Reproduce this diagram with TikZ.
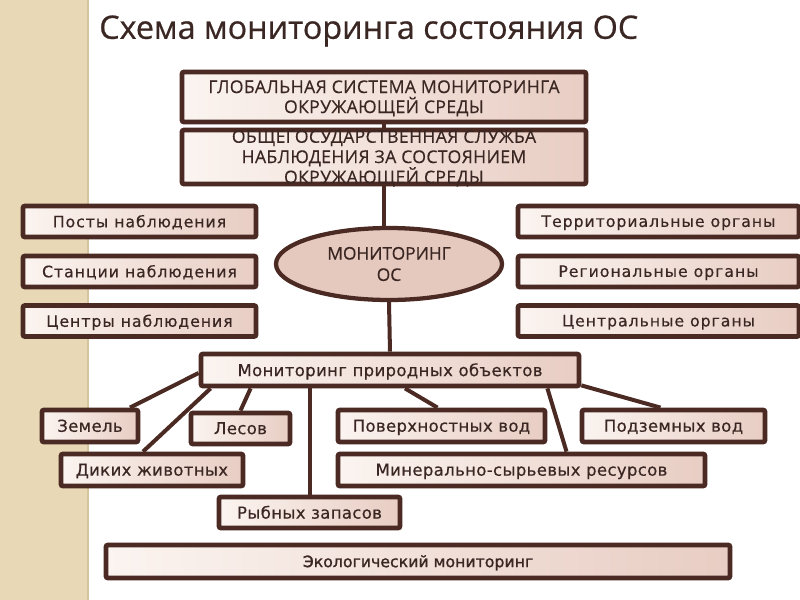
\documentclass[tikz,border=0pt]{standalone}
\usepackage{fontspec}
\setmainfont{DejaVu Sans}
\newfontfamily\hdrfont[FakeBold=0.6]{Open Sans}
\newfontfamily\capfont[LetterSpace=2,FakeBold=0.4]{Open Sans}
\newfontfamily\labfont[LetterSpace=6,FakeBold=0.4]{DejaVu Sans}
\newfontfamily\lowfont[LetterSpace=2,FakeBold=0.4]{DejaVu Sans}
\newfontfamily\ekofont[FakeBold=1.2]{DejaVu Sans}
\usetikzlibrary{shapes.geometric,calc}
\definecolor{brd}{HTML}{4A2A22}
\definecolor{txt}{HTML}{3A2622}
\definecolor{pinkr}{HTML}{E8CDC3}
\definecolor{pinkl}{HTML}{FBF4F0}
\definecolor{ellf}{HTML}{E6C9BE}
\definecolor{strip}{HTML}{E9D8B5}
\definecolor{stripline}{HTML}{D6C49E}
\tikzset{
  bx/.style={draw=brd, line width=3.6pt, rounded corners=1.5pt, left color=pinkl, right color=pinkr,
    inner sep=0pt, text=txt, align=center, text depth=0.5pt},
  lab/.style={font=\labfont\fontsize{11.8}{13}\selectfont},
  low/.style={font=\lowfont\fontsize{12.4}{14}\selectfont},
  conn/.style={draw=brd, line width=3pt},
}
\begin{document}
\begin{tikzpicture}[x=0.75pt,y=-0.75pt]
\useasboundingbox (0,0) rectangle (800,600);
\fill[white] (0,0) rectangle (800,600);
\fill[strip] (0,0) rectangle (87,600);
\draw[stripline, line width=1.5pt] (88,0) -- (88,600);
% title
\node[anchor=west, text=txt, font=\hdrfont\fontsize{24.2}{29}\selectfont, inner sep=0pt] (title) at (99,31) {Схема мониторинга состояния ОС};
% header boxes
\node[bx, minimum width=303pt, minimum height=37.5pt, font=\capfont\fontsize{13.2}{15}\selectfont] (glob) at (384,97)
  {ГЛОБАЛЬНАЯ СИСТЕМА МОНИТОРИНГА\\ОКРУЖАЮЩЕЙ СРЕДЫ};
\node[bx, minimum width=303pt, minimum height=39pt, font=\capfont\fontsize{13.2}{15.2}\selectfont] (obsh) at (384,157)
  {ОБЩЕГОСУДАРСТВЕННАЯ СЛУЖБА\\НАБЛЮДЕНИЯ ЗА СОСТОЯНИЕМ\\ОКРУЖАЮЩЕЙ СРЕДЫ};
\node[ellipse, draw=brd, line width=3.2pt, fill=ellf, minimum width=169.5pt, minimum height=54pt, inner sep=0pt,
  text=txt, align=center, font=\hdrfont\fontsize{13}{16}\selectfont] (ell) at (389,264) {МОНИТОРИНГ\\ОС};
% left column
\node[bx, lab, minimum width=174.75pt, minimum height=23.25pt] (posty) at (139.5,221.5) {Посты наблюдения};
\node[bx, lab, minimum width=174.75pt, minimum height=23.25pt] (stan) at (139.5,271.5) {Станции наблюдения};
\node[bx, lab, minimum width=174.75pt, minimum height=23.25pt] (centr) at (139.5,321) {Центры наблюдения};
% right column
\node[bx, lab, minimum width=210.75pt, minimum height=23.25pt] (terr) at (658.5,221.5) {Территориальные органы};
\node[bx, lab, minimum width=210.75pt, minimum height=23.25pt] (reg) at (658.5,271.5) {Региональные органы};
\node[bx, lab, minimum width=210.75pt, minimum height=23.25pt] (cent) at (658.5,321) {Центральные органы};
% natural objects
\node[bx, low, minimum width=283.5pt, minimum height=24pt] (mpo) at (390,370) {Мониторинг природных объектов};
\node[bx, low, minimum width=72pt, minimum height=24pt] (zem) at (90,426) {Земель};
\node[bx, low, minimum width=74.25pt, minimum height=23.25pt] (les) at (240.5,428.5) {Лесов};
\node[bx, low, minimum width=155.25pt, minimum height=24pt] (pov) at (441.5,426) {Поверхностных вод};
\node[bx, low, minimum width=137.25pt, minimum height=24pt] (podz) at (673.5,426) {Подземных вод};
\node[bx, low, minimum width=136.5pt, minimum height=24pt] (dik) at (152,470) {Диких животных};
\node[bx, low, minimum width=275.25pt, minimum height=24pt] (min) at (521.5,470) {Минерально-сырьевых ресурсов};
\node[bx, low, minimum width=135.75pt, minimum height=23.25pt] (ryb) at (309.5,512.5) {Рыбных запасов};
\node[bx, minimum width=468pt, minimum height=24.75pt, font=\ekofont\fontsize{11.8}{13}\selectfont] (eko) at (418,561.5) {Экологический мониторинг};
% connectors
\draw[conn] (glob.south) -- (obsh.north);
\draw[conn] (obsh.south) -- (obsh.south |- ell.north);
\draw[conn] (ell.south) -- (mpo.north);
\draw[conn] ($(mpo.west)+(0,3)$) -- ($(zem.north)+(40,0)$);
\draw[conn] ($(mpo.south west)+(12,0)$) -- ($(dik.north)+(-9,0)$);
\draw[conn] ($(mpo.south west)+(52,0)$) -- (les.north);
\draw[conn] (ryb.north) -- (ryb.north |- mpo.south);
\draw[conn] ($(mpo.south)+(15,0)$) -- ($(pov.north)+(-4,0)$);
\draw[conn] ($(mpo.south east)+(-34,0)$) -- ($(min.north)+(45,0)$);
\draw[conn] ($(mpo.south east)+(0,-3)$) -- ($(podz.north)+(-13,0)$);
\end{tikzpicture}
\end{document}
